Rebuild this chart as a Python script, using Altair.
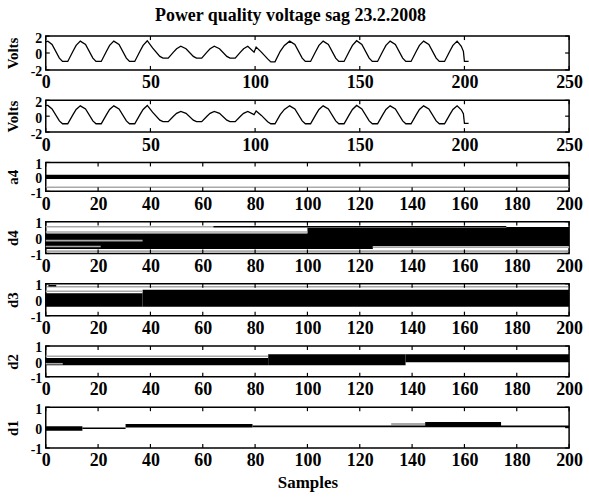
import altair as alt
import pandas as pd

FONT = "Liberation Serif"
PLOT_W = 526
TITLE = "Power quality voltage sag 23.2.2008"

# Measured voltage, traced as polyline vertices (sample index, volts)
raw_x = [0, 1, 3, 6.5, 8, 10.5, 13, 14.5, 16.5,
         19, 22.5, 24, 26.5, 29, 30.5, 32.5,
         35, 38.5, 40, 42.5, 45, 46.5, 48.5,
         51, 54.5, 56, 58.5, 61, 62.5, 64.5,
         67, 70.5, 72, 74.5, 77, 78.5, 80.5,
         83, 86.5, 88, 90.5, 93, 94.5, 96.5, 99.5, 100.5,
         103, 106, 107.5, 109.5, 112, 114, 116.5,
         119, 122.5, 124, 126.5, 129, 130.5, 132.5,
         135, 138.5, 140, 142.5, 145, 146.5, 148.5,
         151, 154.5, 156, 158.5, 161, 162.5, 164.5,
         167, 170.5, 172, 174.5, 177, 178.5, 180.5,
         183, 186.5, 188, 190.5, 193, 194.5, 196.5,
         198.5, 199.5, 200, 202]
raw_y = [1.3, 1.4, 1.0, -0.6, -1.0, -1.0, 0.2, 0.9, 1.4,
         1.0, -0.6, -1.0, -1.0, 0.2, 0.9, 1.4,
         1.0, -0.6, -1.0, -1.0, 0.2, 0.9, 1.45,
         0.6, -0.4, -0.6, -0.6, 0.1, 0.5, 0.8,
         0.5, -0.4, -0.6, -0.6, 0.1, 0.5, 0.8,
         0.5, -0.4, -0.6, -0.6, 0.1, 0.5, 0.8, 0.1, 0.7,
         0.1, -0.7, -1.05, -1.05, 0.2, 0.9, 1.4,
         1.0, -0.6, -1.0, -1.0, 0.2, 0.9, 1.4,
         1.0, -0.6, -1.0, -1.0, 0.2, 0.9, 1.45,
         1.0, -0.6, -1.0, -1.0, 0.2, 0.9, 1.4,
         1.0, -0.6, -1.0, -1.0, 0.2, 0.9, 1.4,
         1.0, -0.6, -1.0, -1.0, 0.2, 0.9, 1.4,
         0.8, 0.2, -1.0, -1.0]

# Reconstructed voltage (same sample positions)
rec_x = raw_x
rec_y = [1.35, 1.35, 0.9, -0.6, -0.95, -0.95, 0.2, 0.85, 1.3,
         0.9, -0.6, -0.95, -0.95, 0.2, 0.85, 1.3,
         0.9, -0.6, -0.95, -0.95, 0.2, 0.85, 1.35,
         0.5, -0.5, -0.68, -0.68, 0.0, 0.35, 0.6,
         0.35, -0.5, -0.68, -0.68, 0.0, 0.35, 0.6,
         0.35, -0.5, -0.68, -0.68, 0.0, 0.35, 0.6, 0.2, 0.65,
         0.1, -0.7, -0.95, -0.95, 0.2, 0.85, 1.3,
         0.9, -0.6, -0.95, -0.95, 0.2, 0.85, 1.3,
         0.9, -0.6, -0.95, -0.95, 0.2, 0.85, 1.35,
         0.9, -0.6, -0.95, -0.95, 0.2, 0.85, 1.3,
         0.9, -0.6, -0.95, -0.95, 0.2, 0.85, 1.3,
         0.9, -0.6, -0.95, -0.95, 0.2, 0.85, 1.3,
         0.8, 0.3, -0.9, -0.9]

# Wavelet coefficient envelopes: filled bands (panel, start, end, low, high, shade)
band_panel = ["a4",
              "d4", "d4",
              "d3", "d3",
              "d2", "d2", "d2",
              "d1", "d1", "d1", "d1"]
band_x0 = [0, 0, 100, 0, 37, 0, 85, 137.5, 0, 30.5, 132, 145]
band_x1 = [200, 125, 200, 37, 200, 85, 137.5, 200, 14, 79, 145, 174]
band_lo = [-0.15, -0.72, -0.53, -0.44, -0.44, -0.25, -0.25, -0.06, -0.16, 0.01, 0.11, 0.04]
band_hi = [0.15, 0.25, 0.62, 0.41, 0.62, 0.22, 0.47, 0.47, 0.07, 0.17, 0.23, 0.27]
band_shade = ["k", "k", "k", "k", "k", "k", "k", "k", "k", "k", "g", "k"]

# Thin coefficient traces (panel, start, end, level, shade)
trace_panel = ["a4",
               "d4", "d4", "d4", "d4", "d4", "d4", "d4", "d4",
               "d3", "d3", "d3",
               "d2", "d2",
               "d1", "d1"]
trace_x0 = [0, 64, 176, 0, 0, 0, 0, 125, 0, 0, 0, 1, 0, 0, 14, 79]
trace_x1 = [200, 176, 200, 64, 100, 37, 21, 200, 200, 37, 200, 4, 85, 6.5, 30.5, 200]
trace_y = [-0.72, 0.68, 0.62, 0.68, 0.35, -0.19, -0.56, -0.6, -0.85,
           0.53, 0.82, 0.88, 0.34, -0.15, -0.03, 0.06]
trace_shade = ["g", "k", "k", "g", "g", "g", "g", "g", "g",
               "g", "g", "k", "g", "g", "k", "k"]

volt_xticks = [0, 50, 100, 150, 200, 250]
coef_xticks = [0, 20, 40, 60, 80, 100, 120, 140, 160, 180, 200]
volt_yticks = [-2, 0, 2]
coef_yticks = [-1, 0, 1]

bands = pd.DataFrame({"panel": band_panel, "x0": band_x0, "x1": band_x1,
                      "lo": band_lo, "hi": band_hi, "shade": band_shade})
traces = pd.DataFrame({"panel": trace_panel, "x0": trace_x0, "x1": trace_x1,
                       "y": trace_y, "shade": trace_shade})

shade_scale = alt.Scale(domain=["k", "g"], range=["#000000", "#a9a9a9"])
INT_LABEL = "'' + round(datum.value)"


def panel(h, xmax, xticks, ylim, yticks, ytitle, marks, xtitle=None):
    xs = alt.Scale(domain=[0, xmax], nice=False, zero=False)
    ys = alt.Scale(domain=ylim, nice=False, zero=False)
    xa = alt.Axis(values=xticks, title=xtitle, labelExpr=INT_LABEL, labelFlush=False,
                  labelOverlap=False, labelPadding=4, labelFontSize=18,
                  titlePadding=5, titleFontSize=17)
    ya = alt.Axis(values=yticks, title=ytitle, labelExpr=INT_LABEL, labelOverlap=False,
                  labelPadding=4, labelOffset=2, labelFontSize=14,
                  titleX=-25, titleY=h / 2, titleFontSize=15)

    def X(f):
        return alt.X(f, type="quantitative", scale=xs, axis=xa)

    def Y(f):
        return alt.Y(f, type="quantitative", scale=ys, axis=ya)

    layers = [m(X, Y) for m in marks]
    tx = pd.DataFrame({"t": xticks})
    ty = pd.DataFrame({"v": yticks})
    tick = dict(color="black", strokeWidth=1.2)
    layers += [
        alt.Chart(tx).mark_rule(**tick).encode(x=X("t"), y=alt.value(0), y2=alt.value(4)),
        alt.Chart(tx).mark_rule(**tick).encode(x=X("t"), y=alt.value(h - 4), y2=alt.value(h)),
        alt.Chart(ty).mark_rule(**tick).encode(y=Y("v"), x=alt.value(0), x2=alt.value(4)),
        alt.Chart(ty).mark_rule(**tick).encode(y=Y("v"), x=alt.value(PLOT_W - 4), x2=alt.value(PLOT_W)),
    ]
    return alt.layer(*layers).properties(width=PLOT_W, height=h)


def signal(xs_, ys_):
    df = pd.DataFrame({"x": xs_, "y": ys_, "i": range(len(xs_))})

    def make(X, Y):
        return alt.Chart(df).mark_line(color="black", strokeWidth=1.3).encode(
            x=X("x"), y=Y("y"), order="i:Q")
    return make


def coef_bands(name):
    def make(X, Y):
        return alt.Chart(bands[bands.panel == name]).mark_rect().encode(
            x=X("x0"), x2="x1", y=Y("lo"), y2="hi",
            color=alt.Color("shade:N", scale=shade_scale, legend=None))
    return make


def coef_traces(name):
    def make(X, Y):
        return alt.Chart(traces[traces.panel == name]).mark_rule(strokeWidth=1.6).encode(
            x=X("x0"), x2="x1", y=Y("y"),
            color=alt.Color("shade:N", scale=shade_scale, legend=None))
    return make


p1 = panel(34, 250, volt_xticks, [-2, 2], volt_yticks, "Volts", [signal(raw_x, raw_y)])
p1 = p1.properties(title=alt.Title(TITLE, font=FONT, fontSize=18, fontWeight="bold",
                                   color="black", anchor="middle", frame="group",
                                   dx=-17, offset=6))
p2 = panel(32, 250, volt_xticks, [-2, 2], volt_yticks, "Volts", [signal(rec_x, rec_y)])

coef_heights = {"a4": 29, "d4": 32, "d3": 32, "d2": 31, "d1": 41}
coef_panels = []
for name in ["a4", "d4", "d3", "d2", "d1"]:
    coef_panels.append(panel(coef_heights[name], 200, coef_xticks, [-1, 1], coef_yticks, name,
                             [coef_bands(name), coef_traces(name)],
                             xtitle="Samples" if name == "d1" else None))

chart = alt.vconcat(p1, p2, *coef_panels, spacing=30.5, bounds="flush").configure_view(
    stroke="black", strokeWidth=1.5
).configure_axis(
    domain=False, ticks=False, grid=False,
    labelFont=FONT, labelFontWeight="bold", labelColor="black",
    titleFont=FONT, titleFontWeight="bold", titleColor="black",
).properties(
    background="white", padding={"left": 5, "top": 5, "right": 5, "bottom": 5}
)

chart.save("out.html", embed_options={"renderer": "svg", "actions": False})
